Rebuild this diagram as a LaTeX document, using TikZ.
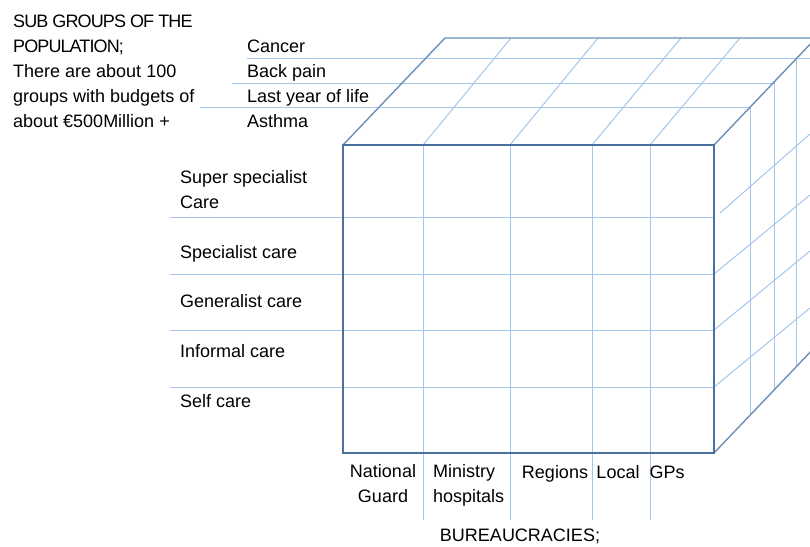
\documentclass[tikz,border=0pt]{standalone}
\usepackage{fontspec}
\setmainfont{Liberation Sans}
\newfontfamily\capsfont[LetterSpace=-5]{Liberation Sans}
\usepackage{tikz}
\usetikzlibrary{calc,positioning}
\definecolor{frontblue}{HTML}{4A72A0}
\definecolor{edgeblue}{HTML}{6A8FB8}
\definecolor{gridblue}{HTML}{A4C6EC}

\begin{document}
\begin{tikzpicture}
[x=1pt,y=-1pt,font=\fontsize{18}{25}\selectfont]
\tikzset{
	gridline/.style = {draw=gridblue, line width=1pt},
	edgeline/.style = {draw=edgeblue, line width=1.4pt},
	frontline/.style = {draw=frontblue, line width=2.6pt},
	lbl/.style = {anchor=base west, inner sep=0pt},
	collbl/.style = {anchor=base, inner sep=0pt, align=center}
}
\useasboundingbox (0,0) rectangle (810,546);

\coordinate (ftl) at (343,145);
\coordinate (ftr) at (714,145);
\coordinate (fbr) at (714,453);
\coordinate (fbl) at (343,453);
\coordinate (btl) at (445,38);
\coordinate (btr) at (816,38);
\coordinate (bbr) at (816,346);

\begin{scope}
\clip (0,0) rectangle (810,546);
% top face
\foreach \xa/\xb in {423/511, 510/598, 592/681, 650/740}
	\draw [gridline] (\xa,145) -- (\xb,38);
\draw [gridline] (200,107) -- (751,107);
\draw [gridline] (232,83) -- (774,83);
\draw [gridline] (247,58) -- (810,58);
% right face
\foreach \d in {0.36,0.59,0.81}
	\draw [gridline] ($(ftr)!\d!(btr)$) -- ($(fbr)!\d!(bbr)$);
\draw [gridline] (720,213) -- ++(90,-79);
\foreach \y in {274,330,387}
	\draw [gridline] (714,\y) -- ++(96,-79);
% columns
\foreach \x in {423,510,592,650}
	\draw [gridline] (\x,145) -- (\x,520);
\foreach \y in {217,274,330,387}
	\draw [gridline] (170,\y) -- (714,\y);
% edges
\draw [edgeline] (ftl) -- (btl) -- (btr);
\draw [edgeline] (ftr) -- (btr);
\draw [edgeline] (fbr) -- (bbr);
\end{scope}
\draw [frontline] (ftl) rectangle (fbr);

\node (subgroups) [lbl, align=left] at (13,127)
	{{\capsfont SUB GROUPS OF THE}\\{\capsfont POPULATION;}\\There are about 100\\groups with budgets of\\about €500Million +};

\node (cancer) [lbl] at (247,52) {Cancer};
\node (backpain) [lbl] at (247,77) {Back pain};
\node (lastyear) [lbl] at (247,102) {Last year of life};
\node (asthma) [lbl] at (247,127) {Asthma};

\node (superspec) [lbl, align=left] at (180,208) {Super specialist\\Care};
\node (specialist) [lbl] at (180,258) {Specialist care};
\node (generalist) [lbl] at (180,307) {Generalist care};
\node (informal) [lbl] at (180,357) {Informal care};
\node (selfcare) [lbl] at (180,407) {Self care};

\node (national) [collbl] at (383,502) {National\\Guard};
\node (ministry) [lbl, align=left] at (433,502) {Ministry\\hospitals};
\node (regions) [collbl] at (555,478) {Regions};
\node (local) [collbl] at (618,478) {Local};
\node (gps) [collbl] at (667,478) {GPs};
\node (bureau) [collbl] at (520,541) {BUREAUCRACIES;};

\end{tikzpicture}
\end{document}
